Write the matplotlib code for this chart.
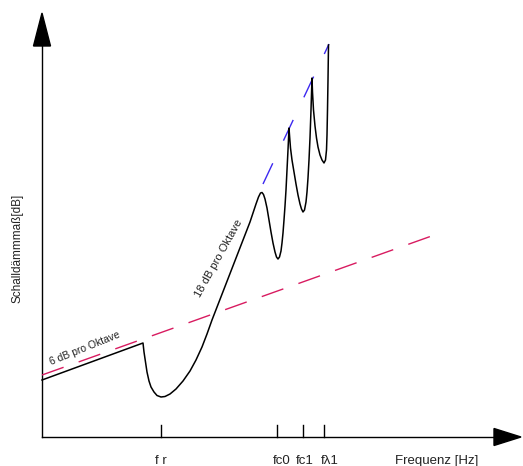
import numpy as np
import matplotlib
matplotlib.use("Agg")
import matplotlib.pyplot as plt
from matplotlib.patches import Polygon

plt.rcParams['font.family'] = ['Liberation Sans', 'DejaVu Sans']

# schematic drawn in picture units (x to the right, y downwards)
curve_x = [42, 143, 144, 145.5, 147, 149, 151, 154, 157, 161, 165, 170, 176, 183, 190, 196, 202,
           207, 212, 250, 253, 256, 258.5, 260.5, 262, 263.5, 265, 267, 269, 271, 273, 275, 276.5,
           278, 279.5, 281, 282, 283, 284, 285, 286, 287, 288, 289, 289.5, 290.5, 292, 294, 296,
           298, 300, 301.5, 303, 304.5, 306, 307, 308, 309, 310, 311, 312, 312.5, 313.5, 315,
           316.5, 318, 320, 322, 324, 325.5, 326.5, 327, 327.5, 328, 328.5]
curve_y = [380, 343, 352, 362, 372, 381, 387, 392, 395.5, 397, 396.5, 394, 389, 381, 371, 360, 347,
           334, 320, 222, 213, 204, 197, 193, 192.5, 194.5, 199, 208, 220, 232, 243, 252, 257,
           259, 257, 251, 243, 233, 220, 206, 190, 170, 150, 128, 135, 148, 160, 172, 184,
           195, 204, 209, 212, 210, 202, 192, 178, 160, 138, 110, 78, 92, 110, 126,
           138, 147, 155, 160, 163, 160, 150, 135, 110, 80, 45]

# 6 dB per octave reference (pink) and 18 dB extension (blue)
pink_x = [42, 440]
pink_y = [375, 233]
blue_x = [263, 329]
blue_y = [184, 44]

tick_pos = [161, 277, 303, 324]
tick_labels = ['f r', 'fc0', 'fc1', 'fλ1']
tick_label_x = [161, 282, 305, 330]

fig = plt.figure(figsize=(5.23, 4.66), dpi=100)
ax = fig.add_axes([0, 0, 1, 1])
ax.set_xlim(0, 523)
ax.set_ylim(466, 0)
ax.axis('off')

# axes with arrow heads
ax.plot([42, 42], [437, 44], color='black', lw=1.0)
ax.plot([42, 496], [437, 437], color='black', lw=1.0)
ax.add_patch(Polygon([[33.5, 46], [50.5, 46], [42, 13]], closed=True, color='black'))
ax.add_patch(Polygon([[494, 428.5], [494, 445.5], [521, 437]], closed=True, color='black'))

for t in tick_pos:
    ax.plot([t, t], [425, 437], color='black', lw=1.0)
for xl, lab in zip(tick_label_x, tick_labels):
    ax.text(xl, 461, lab, ha='center', va='center', fontsize=9.5, color='#222222')
ax.text(437, 461, 'Frequenz [Hz]', ha='center', va='center', fontsize=9.5, color='#222222')
ax.text(18, 248, 'Schalldämmmaß[dB]', rotation=90, ha='center', va='center',
        fontsize=8.5, color='#222222')

ax.plot(pink_x, pink_y, color='#d81b60', lw=1.0, dashes=(16.5, 11.5))
ax.plot(blue_x, blue_y, color='#3c28f0', lw=1.0, dashes=(16.5, 18))
ax.plot(curve_x, curve_y, color='black', lw=1.1, solid_joinstyle='round')

ax.text(85, 348, '6 dB pro Oktave', rotation=22, rotation_mode='anchor',
        ha='center', va='center', fontsize=7.5, color='#222222')
ax.text(219, 258, '18 dB pro Oktave', rotation=61, rotation_mode='anchor',
        ha='center', va='center', fontsize=8, color='#222222')

fig.savefig('out.png', dpi=100)
